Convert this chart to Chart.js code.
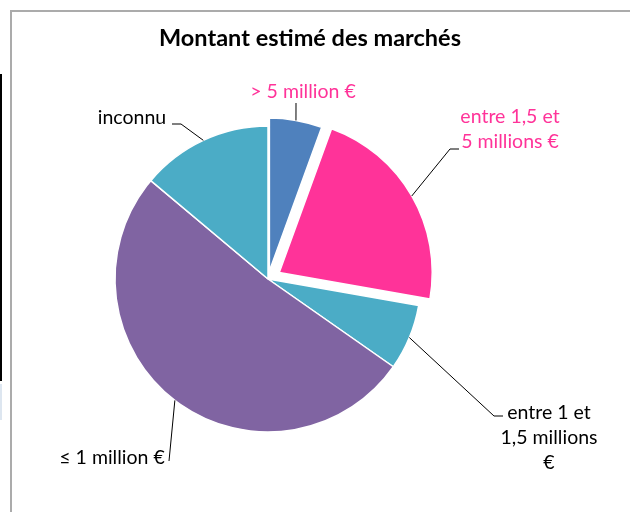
<!DOCTYPE html>
<html><head><meta charset="utf-8">
<script src="https://cdn.jsdelivr.net/npm/chart.js@4"></script>
<style>
html,body{margin:0;padding:0;background:#fff;}
#wrap{position:relative;width:630px;height:512px;overflow:hidden;background:#fff;}
#frame{position:absolute;left:10px;top:10px;width:700px;height:600px;border-left:2px solid #ababab;border-top:2px solid #ababab;}
#blk{position:absolute;left:0;top:74px;width:2px;height:307px;background:#000;}
#blu{position:absolute;left:0;top:384px;width:2px;height:36px;background:#dde6f0;}
canvas{position:absolute;left:0;top:0;}
</style></head>
<body><div id="wrap"><div id="frame"></div><div id="blk"></div><div id="blu"></div><canvas id="c" width="630" height="512"></canvas></div>
<script>
const chartTitle = 'Montant estimé des marchés';
const categories = ['> 5 million €', ['entre 1,5 et', '5 millions €'], ['entre 1 et', '1,5 millions', '€'], '≤ 1 million €', 'inconnu'];
const values = [4, 16, 5, 37, 10];
const sliceColors = ['#4F81BD', '#FF3399', '#4BACC6', '#8064A2', '#4BACC6'];
const labelColors = ['#FF3399', '#FF3399', '#000000', '#000000', '#000000'];
const explode = [8, 13, 0, 0, 0];

// label placement (text centre x, first line y, line height) and leader elbows
const labelLayout = [
  {x: 303, y: 92, lh: 25, path: [[296, 103]]},
  {x: 510, y: 117, lh: 25, path: [[450, 149], [459, 149]]},
  {x: 549, y: 413, lh: 25, path: [[494, 416], [503, 416]]},
  {x: 112, y: 458, lh: 25, path: [[169, 461]]},
  {x: 132, y: 118, lh: 25, path: [[181, 124], [172, 124]]}
];

const FONT = 'Lato, "Open Sans", sans-serif';

const explodePlugin = {
  id: 'explodePlugin',
  beforeDatasetDraw(chart, args) {
    const meta = args.meta;
    const ctx = chart.ctx;
    meta.data.forEach((arc, i) => {
      const d = explode[i] || 0;
      const mid = (arc.startAngle + arc.endAngle) / 2;
      ctx.save();
      ctx.translate(Math.cos(mid) * d, Math.sin(mid) * d);
      arc.draw(ctx);
      ctx.restore();
    });
    return false;
  },
  afterDatasetsDraw(chart) {
    const ctx = chart.ctx;
    const meta = chart.getDatasetMeta(0);
    ctx.save();
    ctx.fillStyle = '#000';
    ctx.font = 'bold 23.5px ' + FONT;
    ctx.textAlign = 'center';
    ctx.textBaseline = 'middle';
    ctx.fillText(chartTitle, 310, 38);
    ctx.restore();
    meta.data.forEach((arc, i) => {
      const d = explode[i] || 0;
      const mid = (arc.startAngle + arc.endAngle) / 2;
      const ax = arc.x + Math.cos(mid) * (arc.outerRadius + d);
      const ay = arc.y + Math.sin(mid) * (arc.outerRadius + d);
      const L = labelLayout[i];
      ctx.save();
      ctx.strokeStyle = '#000';
      ctx.lineWidth = 1;
      ctx.beginPath();
      ctx.moveTo(ax, ay);
      L.path.forEach(p => ctx.lineTo(p[0], p[1]));
      ctx.stroke();
      const lines = Array.isArray(categories[i]) ? categories[i] : [categories[i]];
      ctx.fillStyle = labelColors[i];
      ctx.font = '19.5px ' + FONT;
      ctx.textAlign = 'center';
      ctx.textBaseline = 'middle';
      lines.forEach((t, k) => ctx.fillText(t, L.x, L.y + k * L.lh));
      ctx.restore();
    });
  }
};

new Chart(document.getElementById('c'), {
  type: 'pie',
  data: {
    labels: categories,
    datasets: [{
      data: values,
      backgroundColor: sliceColors,
      borderColor: '#ffffff',
      borderWidth: 1.5,
      radius: 153
    }]
  },
  options: {
    responsive: false,
    animation: false,
    devicePixelRatio: 1,
    layout: {padding: {left: 0, right: 94, top: 46, bottom: 0}},
    plugins: {legend: {display: false}, title: {display: false}, tooltip: {enabled: false}}
  },
  plugins: [explodePlugin]
});
</script>
</body></html>
